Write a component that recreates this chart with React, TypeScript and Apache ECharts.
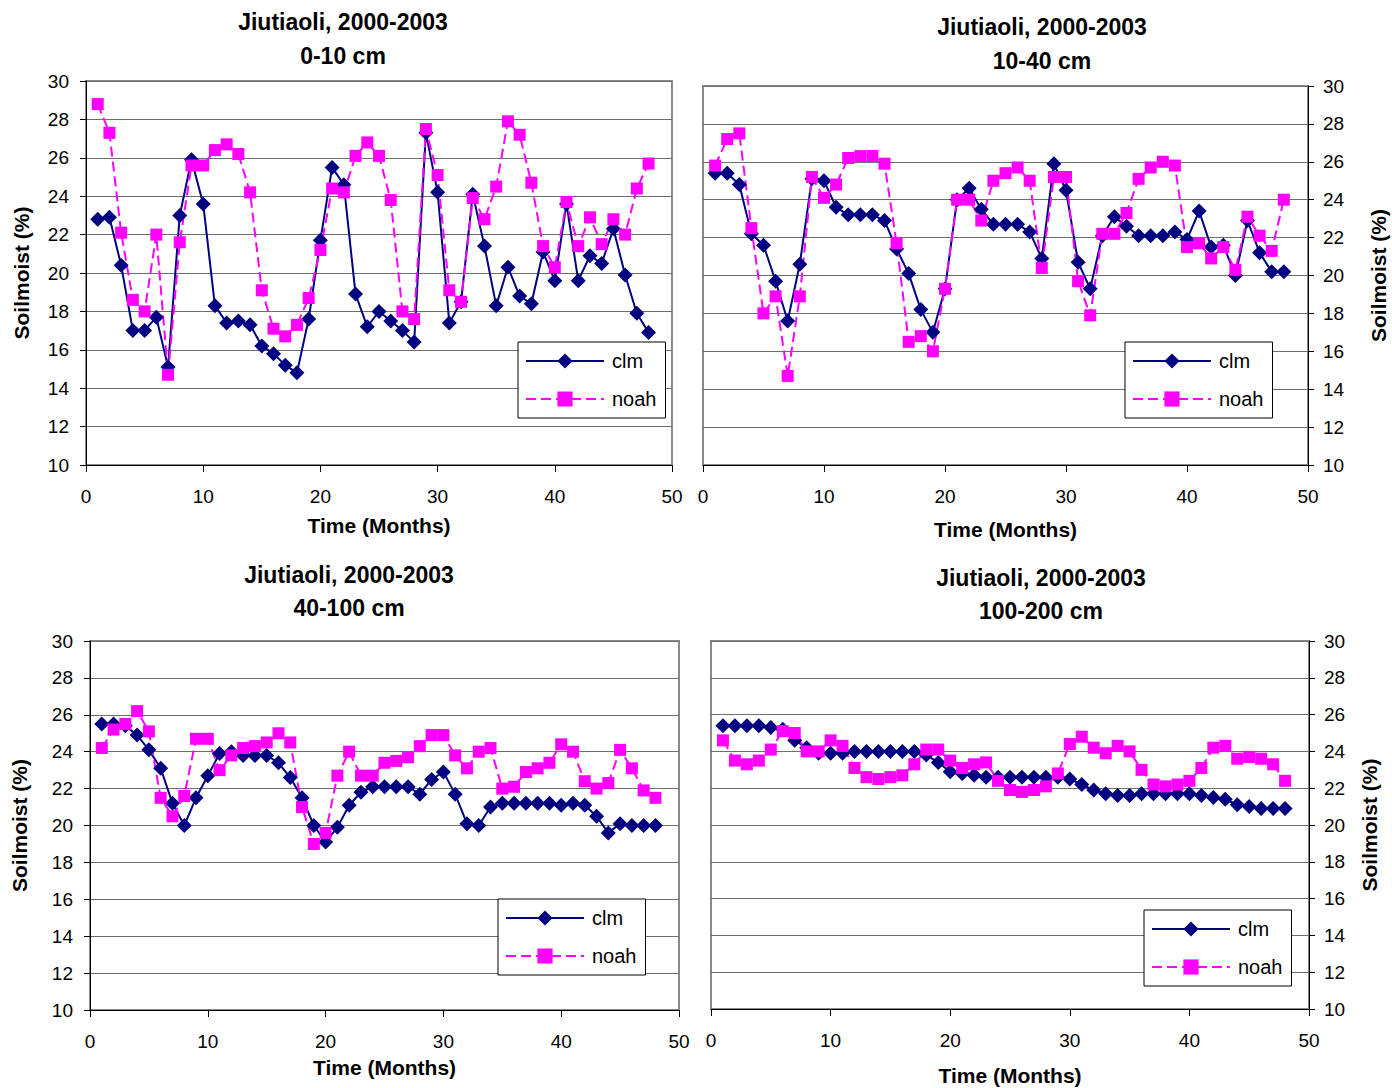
import React, { useEffect, useRef } from "react";
import * as echarts from "echarts";

const months = [1,2,3,4,5,6,7,8,9,10,11,12,13,14,15,16,17,18,19,20,21,22,23,24,25,26,27,28,29,30,31,32,33,34,35,36,37,38,39,40,41,42,43,44,45,46,47,48];

const clm0_10 = [22.8,22.9,20.4,17.0,17.0,17.7,15.1,23.0,25.9,23.6, 18.3,17.4,17.5,17.3,16.2,15.8,15.2,14.8,17.6,21.7, 25.5,24.6,18.9,17.2,18.0,17.5,17.0,16.4,27.3,24.2, 17.4,18.5,24.1,21.4,18.3,20.3,18.8,18.4,21.1,19.6, 23.6,19.6,20.9,20.5,22.3,19.9,17.9,16.9];
const noah0_10 = [28.8,27.3,22.1,18.6,18.0,22.0,14.7,21.6,25.6,25.6, 26.4,26.7,26.2,24.2,19.1,17.1,16.7,17.3,18.7,21.2, 24.4,24.2,26.1,26.8,26.1,23.8,18.0,17.6,27.5,25.1, 19.1,18.5,23.9,22.8,24.5,27.9,27.2,24.7,21.4,20.3, 23.7,21.4,22.9,21.5,22.8,22.0,24.4,25.7];

const clm10_40 = [25.4,25.4,24.8,22.2,21.6,19.7,17.6,20.6,25.1,25.0, 23.6,23.2,23.2,23.2,22.9,21.4,20.1,18.2,17.0,19.3, 24.0,24.6,23.5,22.7,22.7,22.7,22.3,20.9,25.9,24.5, 20.7,19.3,22.1,23.1,22.6,22.1,22.1,22.1,22.3,21.9, 23.4,21.5,21.6,20.0,22.9,21.2,20.2,20.2];
const noah10_40 = [25.8,27.2,27.5,22.5,18.0,18.9,14.7,18.9,25.2,24.1, 24.8,26.2,26.3,26.3,25.9,21.7,16.5,16.8,16.0,19.3, 24.0,24.0,22.9,25.0,25.4,25.7,25.0,20.4,25.2,25.2, 19.7,17.9,22.2,22.2,23.3,25.1,25.7,26.0,25.8,21.5, 21.7,20.9,21.5,20.3,23.1,22.1,21.3,24.0];

const clm40_100 = [25.5,25.5,25.4,24.9,24.1,23.1,21.2,20.0,21.5,22.7, 23.9,24.0,23.8,23.8,23.8,23.4,22.6,21.5,20.0,19.1, 19.9,21.1,21.8,22.1,22.1,22.1,22.1,21.7,22.5,22.9, 21.7,20.1,20.0,21.0,21.2,21.2,21.2,21.2,21.2,21.1, 21.2,21.1,20.5,19.6,20.1,20.0,20.0,20.0];
const noah40_100 = [24.2,25.2,25.5,26.2,25.1,21.5,20.5,21.6,24.7,24.7, 23.0,23.8,24.2,24.3,24.5,25.0,24.5,21.0,19.0,19.6, 22.7,24.0,22.7,22.7,23.4,23.5,23.7,24.3,24.9,24.9, 23.8,23.1,24.0,24.2,22.0,22.1,22.9,23.1,23.4,24.4, 24.0,22.4,22.0,22.3,24.1,23.1,21.9,21.5];

const clm100_200 = [25.4,25.4,25.4,25.4,25.3,25.2,24.6,24.2,23.9,23.9, 23.9,24.0,24.0,24.0,24.0,24.0,24.0,23.8,23.4,22.9, 22.8,22.7,22.6,22.6,22.6,22.6,22.6,22.6,22.6,22.5, 22.2,21.9,21.7,21.6,21.6,21.7,21.7,21.7,21.7,21.7, 21.6,21.5,21.4,21.1,21.0,20.9,20.9,20.9];
const noah100_200 = [24.6,23.5,23.3,23.5,24.1,25.1,25.0,24.0,24.0,24.6, 24.3,23.1,22.6,22.5,22.6,22.7,23.3,24.1,24.1,23.5, 23.1,23.3,23.4,22.4,21.9,21.8,21.9,22.1,22.8,24.4, 24.8,24.2,23.9,24.3,24.0,23.0,22.2,22.1,22.2,22.4, 23.1,24.2,24.3,23.6,23.7,23.6,23.3,22.4];

const titleLine1 = "Jiutiaoli, 2000-2003";
const depthLabels = ["0-10 cm", "10-40 cm", "40-100 cm", "100-200 cm"];
const seriesNames = ["clm", "noah"];
const xAxisTitle = "Time (Months)";
const yAxisTitle = "Soilmoist (%)";

const FONT = '"Liberation Sans", Arial, Helvetica, sans-serif';
const CLM_COLOR = "#000080";
const NOAH_COLOR = "#FF00FF";

const panels = [
  { clm: clm0_10, noah: noah0_10, grid: { left: 86, top: 81, width: 586, height: 384 }, yPos: "left", yGap: 54, xGap: 50, title: { x: 343, y1: 22, y2: 56 }, legend: { left: 518, top: 342 } },
  { clm: clm10_40, noah: noah10_40, grid: { left: 703, top: 86, width: 605, height: 379 }, yPos: "right", yGap: 60, xGap: 54, title: { x: 1042, y1: 27, y2: 61 }, legend: { left: 1125, top: 342 } },
  { clm: clm40_100, noah: noah40_100, grid: { left: 90, top: 641, width: 589, height: 369 }, yPos: "left", yGap: 60, xGap: 47, title: { x: 349, y1: 575, y2: 608 }, legend: { left: 498, top: 899 } },
  { clm: clm100_200, noah: noah100_200, grid: { left: 711, top: 641, width: 598, height: 368 }, yPos: "right", yGap: 50, xGap: 56, title: { x: 1041, y1: 578, y2: 611 }, legend: { left: 1144, top: 910 } },
];

export default function App() {
  const ref = useRef<HTMLDivElement>(null);
  useEffect(() => {
    if (!ref.current) return;
    const chart = echarts.init(ref.current, undefined, { renderer: "svg" });
    const grids: any[] = [];
    const xAxes: any[] = [];
    const yAxes: any[] = [];
    const series: any[] = [];
    const legends: any[] = [];
    const graphics: any[] = [];
    panels.forEach((p, i) => {
      grids.push({ ...p.grid, show: true, borderColor: "#8a8a8a", borderWidth: 2, backgroundColor: "#fff", containLabel: false });
      xAxes.push({
        type: "value", gridIndex: i, min: 0, max: 50, interval: 10,
        name: xAxisTitle, nameLocation: "middle", nameGap: p.xGap,
        nameTextStyle: { fontFamily: FONT, fontWeight: "bold", fontSize: 21, color: "#000" },
        axisLine: { show: true, onZero: false, lineStyle: { color: "#000", width: 1 } },
        axisTick: { show: true, inside: false, length: 7, lineStyle: { color: "#000" } },
        axisLabel: { fontFamily: FONT, fontSize: 19, color: "#000", margin: 22 },
        splitLine: { show: false },
      });
      yAxes.push({
        type: "value", gridIndex: i, min: 10, max: 30, interval: 2, position: p.yPos,
        name: yAxisTitle, nameLocation: "middle", nameGap: p.yGap, nameRotate: 90,
        nameTextStyle: { fontFamily: FONT, fontWeight: "bold", fontSize: 21, color: "#000" },
        axisLine: { show: true, onZero: false, lineStyle: { color: "#000", width: 1 } },
        axisTick: { show: true, inside: false, length: 6, lineStyle: { color: "#000" } },
        axisLabel: { fontFamily: FONT, fontSize: 19, color: "#000", margin: p.yPos === "left" ? 17 : 15 },
        splitLine: { show: true, lineStyle: { color: "#6e6e6e", width: 1 } },
      });
      series.push({
        type: "line", name: seriesNames[0], xAxisIndex: i, yAxisIndex: i,
        data: months.map((m, k) => [m, p.clm[k]]),
        symbol: "diamond", symbolSize: 15, showAllSymbol: true,
        lineStyle: { color: CLM_COLOR, width: 2 }, itemStyle: { color: CLM_COLOR },
      });
      series.push({
        type: "line", name: seriesNames[1], xAxisIndex: i, yAxisIndex: i,
        data: months.map((m, k) => [m, p.noah[k]]),
        symbol: "rect", symbolSize: 12, showAllSymbol: true,
        lineStyle: { color: NOAH_COLOR, width: 2, type: [10, 5] }, itemStyle: { color: NOAH_COLOR },
      });
      legends.push({
        left: p.legend.left, top: p.legend.top, orient: "vertical",
        data: seriesNames, selectedMode: false,
        backgroundColor: "#fff", borderColor: "#000", borderWidth: 1,
        padding: [9, 9, 9, 7], itemWidth: 78, itemHeight: 19, itemGap: 18,
        textStyle: { fontFamily: FONT, fontSize: 20, color: "#000", padding: [0, 0, 0, 3] },
      });
      [[titleLine1, p.title.y1], [depthLabels[i], p.title.y2]].forEach(([t, y]) => {
        graphics.push({
          type: "text", x: p.title.x, y: y as number, z: 10,
          style: { text: t as string, fill: "#000", font: `bold 23px ${FONT}`, align: "center", verticalAlign: "middle", textAlign: "center", textVerticalAlign: "middle" },
        });
      });
    });
    chart.setOption({
      animation: false,
      backgroundColor: "#fff",
      grid: grids,
      xAxis: xAxes,
      yAxis: yAxes,
      series,
      legend: legends,
      graphic: graphics,
    });
    return () => chart.dispose();
  }, []);
  return <div ref={ref} style={{ position: "absolute", left: 0, top: 0, width: 1392, height: 1088, background: "#fff" }} />;
}
